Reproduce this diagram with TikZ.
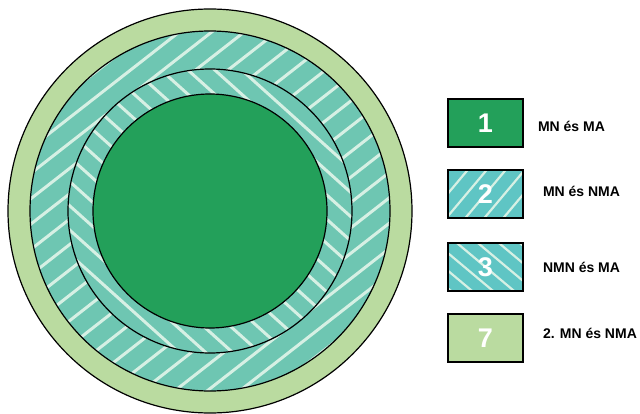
\documentclass[tikz,border=0pt]{standalone}
\usepackage{fontspec}
\setmainfont{Liberation Sans}
\usepackage{tikz}
\usetikzlibrary{positioning}

\definecolor{ringgreen}{RGB}{186,219,160}
\definecolor{ringteal}{RGB}{110,198,178}
\definecolor{coregreen}{RGB}{35,160,90}
\definecolor{boxteal}{RGB}{95,197,196}
\definecolor{stripe}{RGB}{214,240,228}

\tikzset{
  hatch/.style={draw=stripe, line width=3pt},
  keybox/.style={draw, line width=1.6pt, minimum width=75pt, minimum height=48pt, inner sep=0pt,
    text=white, font=\fontsize{27}{27}\selectfont\bfseries},
  keytext/.style={inner sep=0pt, font=\fontsize{14}{14}\selectfont\bfseries},
  stripesup/.style={path picture={
    \foreach \k in {-5,...,5}
      \draw[hatch, line width=2.2pt] ([xshift=\k*19pt]path picture bounding box.center) ++(50:-50pt) -- ++(50:100pt);}},
  stripesdown/.style={path picture={
    \foreach \k in {-5,...,5}
      \draw[hatch, line width=2.2pt] ([xshift=\k*21pt]path picture bounding box.center) ++(-40:-50pt) -- ++(-40:100pt);}},
}

\begin{document}
\begin{tikzpicture}[x=1pt, y=1pt]
    \useasboundingbox (0,0) rectangle (640,413);

    % rings
    \coordinate (c) at (210,202);
    \filldraw[fill=ringgreen, line width=1.2pt] (c) circle[radius=202];

    \fill[ringteal] (c) circle[radius=180];
    \begin{scope}
      \clip (c) circle[radius=180];
      \begin{scope}[shift={(c)}, rotate=38]
        \foreach \k in {-10,...,10} \draw[hatch] (-200,\k*20) -- (200,\k*20);
      \end{scope}
    \end{scope}
    \draw[line width=1.2pt] (c) circle[radius=180];

    \fill[ringteal] (c) circle[radius=142];
    \begin{scope}
      \clip (c) circle[radius=142];
      \begin{scope}[shift={(c)}, rotate=-42]
        \foreach \k in {-9,...,9} \draw[hatch] (-160,\k*18) -- (160,\k*18);
      \end{scope}
    \end{scope}
    \draw[line width=1.2pt] (c) circle[radius=142];

    \filldraw[fill=coregreen, line width=1.2pt] (c) circle[radius=117];

    % legend
    \node[keybox, fill=coregreen] (k1) at (485.5,290) {1};
    \node[keybox, fill=boxteal, stripesup] (k2) at (485.5,219) {2};
    \node[keybox, fill=boxteal, stripesdown] (k3) at (485.5,146) {3};
    \node[keybox, fill=ringgreen] (k7) at (485.5,75) {7};

    \node[keytext, right=14pt of k1, yshift=-3pt] (t1) {MN és MA};
    \node[keytext, right=19pt of k2, yshift=2.5pt] (t2) {MN és NMA};
    \node[keytext, right=19pt of k3] (t3) {NMN és MA};
    \node[keytext, right=19pt of k7, yshift=4.5pt] (t7) {2. MN és NMA};

\end{tikzpicture}
\end{document}
